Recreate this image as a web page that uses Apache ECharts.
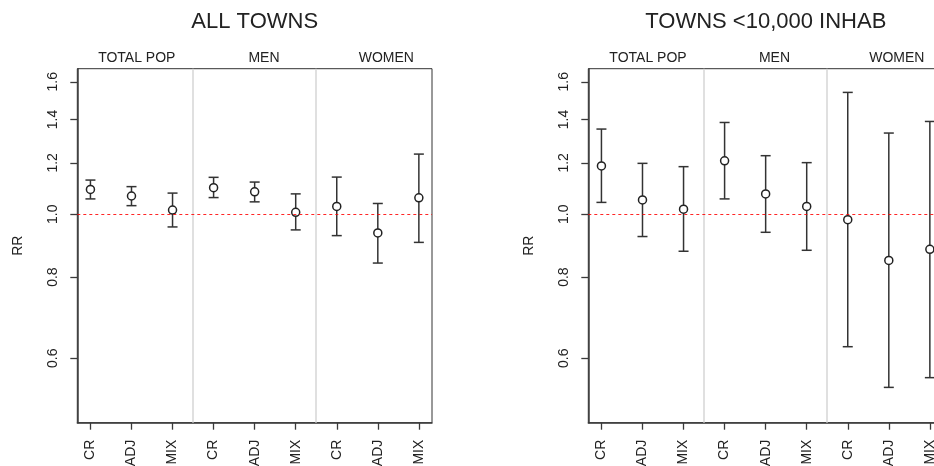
<!DOCTYPE html>
<html>
<head>
<meta charset="utf-8">
<script src="https://cdn.jsdelivr.net/npm/echarts@6/dist/echarts.min.js"></script>
<style>html,body{margin:0;padding:0;background:#fff;}#c{width:934px;height:466px;}</style>
</head>
<body>
<div id="c"></div>
<script>
const categories = ['CR','ADJ','MIX','CR','ADJ','MIX','CR','ADJ','MIX'];
const groups = ['TOTAL POP','MEN','WOMEN'];
const panelTitles = ['ALL TOWNS','TOWNS <10,000 INHAB'];
const yTicks = [0.6, 0.8, 1.0, 1.2, 1.4, 1.6];
const yLimits = [0.5, 1.6];

const allRR = [1.092, 1.067, 1.015, 1.099, 1.083, 1.007, 1.028, 0.936, 1.060];
const allLo = [1.056, 1.031, 0.956, 1.061, 1.045, 0.946, 0.927, 0.841, 0.905];
const allHi = [1.129, 1.103, 1.078, 1.140, 1.121, 1.075, 1.141, 1.039, 1.238];

const smallRR = [1.187, 1.052, 1.018, 1.209, 1.075, 1.028, 0.981, 0.849, 0.883];
const smallLo = [1.043, 0.924, 0.877, 1.056, 0.938, 0.880, 0.625, 0.541, 0.560];
const smallHi = [1.353, 1.198, 1.184, 1.385, 1.231, 1.201, 1.541, 1.334, 1.390];

const FONT = "'Liberation Sans', Arial, Helvetica, sans-serif";
const TXT = '#222';
const AX = '#3a3a3a';

const lnLo = Math.log(yLimits[0]), lnHi = Math.log(yLimits[1]);
const pad = 0.04 * (lnHi - lnLo);
const yMin = lnLo - pad, yMax = lnHi + pad;
const xs = categories.map((c, i) => i + 1);

const panels = [
  {rr: allRR, lo: allLo, hi: allHi, left: 77.3, center: 254.7, strips: [136.8, 264, 386.3]},
  {rr: smallRR, lo: smallLo, hi: smallHi, left: 588.3, center: 765.8, strips: [648, 774.5, 896.8]}
];

const grid = [], xAxis = [], yAxis = [], series = [], title = [], graphic = [];

panels.forEach((p, k) => {
  grid.push({left: p.left, top: 68.7, width: 354.7, height: 354, show: true,
    outerBoundsMode: 'none', containLabel: false,
    borderColor: '#333', borderWidth: 1, backgroundColor: 'transparent'});
  xAxis.push({
    type: 'value', gridIndex: k, min: 0.68, max: 9.32,
    axisLine: {show: true, onZero: false, lineStyle: {color: AX, width: 1.5}},
    axisTick: {show: true, length: 7, customValues: xs, lineStyle: {color: AX, width: 1.3}},
    axisLabel: {show: true, customValues: xs, rotate: 90, margin: 17, color: TXT, fontSize: 14, fontFamily: FONT,
      formatter: v => categories[Math.round(v) - 1] || ''},
    splitLine: {show: false}
  });
  yAxis.push({
    type: 'value', gridIndex: k, min: yMin, max: yMax,
    name: 'RR', nameLocation: 'middle', nameGap: 52, nameRotate: 90,
    nameTextStyle: {color: TXT, fontSize: 14, fontFamily: FONT},
    axisLine: {show: true, onZero: false, lineStyle: {color: AX, width: 1.5}},
    axisTick: {show: true, length: 7, customValues: yTicks.map(Math.log), lineStyle: {color: AX, width: 1.3}},
    axisLabel: {show: true, customValues: yTicks.map(Math.log), rotate: 90, margin: 17, color: TXT, fontSize: 14, fontFamily: FONT,
      formatter: v => Math.exp(v).toFixed(1)},
    splitLine: {show: false}
  });
  title.push({text: panelTitles[k], left: p.center, top: 11, textAlign: 'center', padding: 0,
    textStyle: {fontSize: 22, fontWeight: 'normal', color: TXT, fontFamily: FONT}});
  groups.forEach((g, j) => {
    graphic.push({type: 'text', x: p.strips[j], y: 57.7, silent: true,
      style: {text: g, align: 'center', verticalAlign: 'middle', fontSize: 14, fontFamily: FONT, fill: TXT}});
  });

  // group separators
  series.push({
    type: 'line', xAxisIndex: k, yAxisIndex: k, data: [], silent: true, z: 1,
    markLine: {symbol: 'none', silent: true, label: {show: false},
      lineStyle: {color: '#d6d6d6', width: 1.5, type: 'solid'},
      data: [{xAxis: 3.5}, {xAxis: 6.5}]}
  });
  // RR = 1 reference
  series.push({
    type: 'line', xAxisIndex: k, yAxisIndex: k, data: [], silent: true, z: 2,
    color: '#ff0000',
    markLine: {symbol: 'none', silent: true, label: {show: false},
      lineStyle: {color: '#ff0000', width: 1, type: [3, 3], opacity: 0.85},
      data: [{yAxis: 0}]}
  });
  // error bars
  series.push({
    type: 'custom', xAxisIndex: k, yAxisIndex: k, z: 3, silent: true,
    data: xs.map((x, i) => [x, Math.log(p.lo[i]), Math.log(p.hi[i])]),
    encode: {x: 0, y: [1, 2]},
    renderItem: (params, api) => {
      const x = api.value(0);
      const a = api.coord([x, api.value(1)]);
      const b = api.coord([x, api.value(2)]);
      const w = 5;
      const st = {stroke: '#333', lineWidth: 1.5};
      return {type: 'group', children: [
        {type: 'line', shape: {x1: a[0], y1: a[1], x2: b[0], y2: b[1]}, style: st},
        {type: 'line', shape: {x1: a[0] - w, y1: a[1], x2: a[0] + w, y2: a[1]}, style: st},
        {type: 'line', shape: {x1: b[0] - w, y1: b[1], x2: b[0] + w, y2: b[1]}, style: st}
      ]};
    }
  });
  // points
  series.push({
    type: 'scatter', xAxisIndex: k, yAxisIndex: k, z: 4, silent: true,
    symbol: 'circle', symbolSize: 8,
    itemStyle: {color: '#fff', borderColor: '#222', borderWidth: 1.5, opacity: 1},
    data: xs.map((x, i) => [x, Math.log(p.rr[i])])
  });
});

const chart = echarts.init(document.getElementById('c'), null, {renderer: 'canvas'});
chart.setOption({animation: false, backgroundColor: '#fff', title, grid, xAxis, yAxis, series, graphic});
</script>
</body>
</html>
